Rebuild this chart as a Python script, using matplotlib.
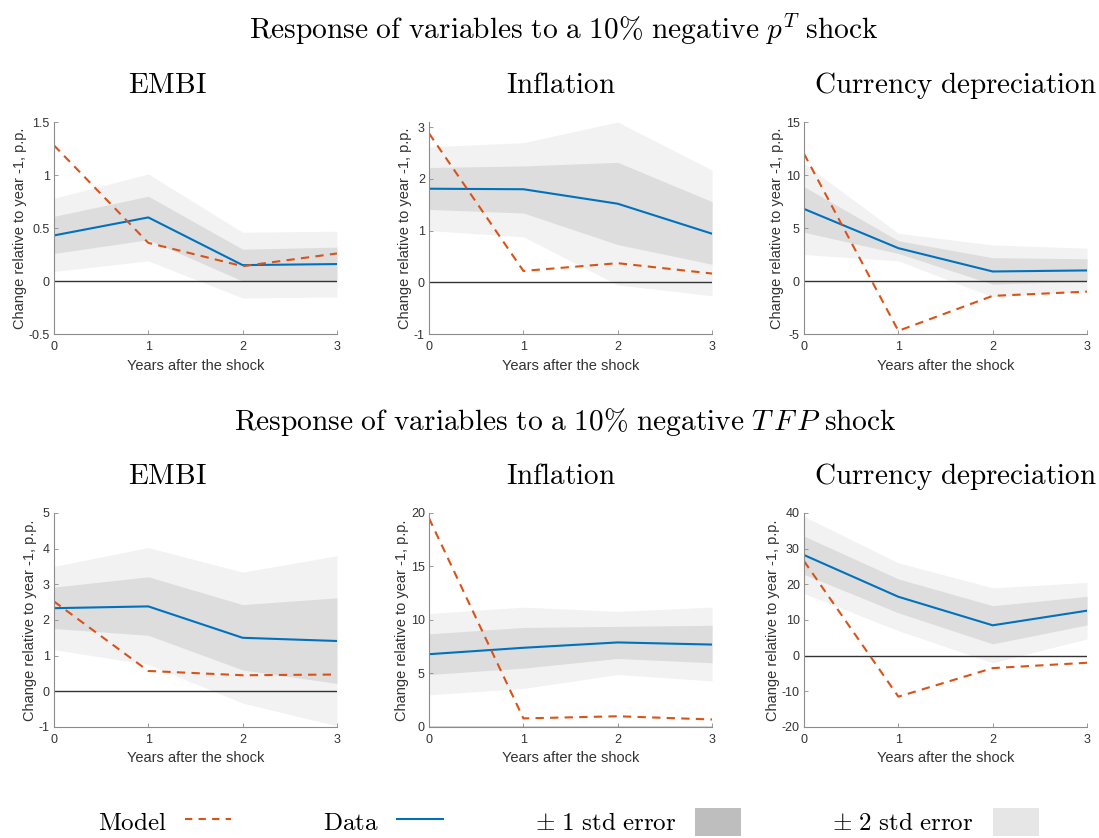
import matplotlib
matplotlib.use("Agg")
import matplotlib.pyplot as plt
from matplotlib.lines import Line2D
from matplotlib.patches import Patch

plt.rcParams['mathtext.fontset'] = 'cm'
plt.rcParams['font.family'] = ['Liberation Sans', 'DejaVu Sans']

years = [0, 1, 2, 3]
titles = ["EMBI", "Inflation", "Currency depreciation"]
title_x = [0.40, 0.466, 0.534]

# shock to p^T
pt_model = [[1.28, 0.36, 0.14, 0.26], [2.88, 0.22, 0.37, 0.17], [12.0, -4.7, -1.4, -1.0]]
pt_data = [[0.43, 0.60, 0.15, 0.16], [1.81, 1.80, 1.52, 0.94], [6.8, 3.1, 0.9, 1.0]]
pt_lo1 = [[0.26, 0.39, 0.0, 0.0], [1.41, 1.34, 0.73, 0.35], [4.6, 2.6, -0.3, 0.0]]
pt_hi1 = [[0.61, 0.80, 0.30, 0.32], [2.22, 2.25, 2.32, 1.56], [8.9, 3.8, 2.2, 2.1]]
pt_lo2 = [[0.09, 0.19, -0.16, -0.15], [1.00, 0.88, -0.05, -0.26], [2.5, 1.9, -1.5, -1.0]]
pt_hi2 = [[0.78, 1.01, 0.46, 0.47], [2.62, 2.70, 3.10, 2.17], [11.1, 4.5, 3.4, 3.1]]
pt_ylim = [(-0.5, 1.5), (-1, 3.1), (-5, 15)]
pt_yticks = [[-0.5, 0, 0.5, 1, 1.5], [-1, 0, 1, 2, 3], [-5, 0, 5, 10, 15]]
pt_yticklabels = [["-0.5", "0", "0.5", "1", "1.5"], ["-1", "0", "1", "2", "3"], ["-5", "0", "5", "10", "15"]]

# shock to TFP
tfp_model = [[2.52, 0.57, 0.45, 0.47], [19.5, 0.8, 1.0, 0.7], [26.5, -11.5, -3.5, -2.0]]
tfp_data = [[2.33, 2.38, 1.50, 1.41], [6.8, 7.4, 7.9, 7.7], [28.2, 16.5, 8.5, 12.6]]
tfp_lo1 = [[1.76, 1.57, 0.60, 0.22], [4.9, 5.5, 6.4, 6.0], [22.8, 12.0, 3.3, 8.6]]
tfp_hi1 = [[2.92, 3.21, 2.43, 2.62], [8.7, 9.3, 9.4, 9.5], [33.5, 21.5, 14.0, 16.6]]
tfp_lo2 = [[1.17, 0.75, -0.33, -0.97], [3.0, 3.6, 4.9, 4.3], [17.4, 7.0, -2.0, 4.7]]
tfp_hi2 = [[3.50, 4.03, 3.34, 3.80], [10.6, 11.2, 10.8, 11.2], [39.0, 26.0, 19.0, 20.5]]
tfp_ylim = [(-1, 5), (0, 20), (-20, 40)]
tfp_yticks = [[-1, 0, 1, 2, 3, 4, 5], [0, 5, 10, 15, 20], [-20, -10, 0, 10, 20, 30, 40]]
tfp_yticklabels = [["-1", "0", "1", "2", "3", "4", "5"], ["0", "5", "10", "15", "20"],
                   ["-20", "-10", "0", "10", "20", "30", "40"]]

c_model = '#D95319'
c_data = '#0072BD'
c_band1 = '#dddddd'
c_band2 = '#f2f2f2'

fig = plt.figure(figsize=(10.99, 8.38), dpi=100)

lefts = [0.0491, 0.3904, 0.7316]
rows = [
    (0.6014, 0.2530, pt_model, pt_data, pt_lo1, pt_hi1, pt_lo2, pt_hi2, pt_ylim, pt_yticks, pt_yticklabels),
    (0.1325, 0.2554, tfp_model, tfp_data, tfp_lo1, tfp_hi1, tfp_lo2, tfp_hi2, tfp_ylim, tfp_yticks, tfp_yticklabels),
]

for bottom, height, model, data, lo1, hi1, lo2, hi2, ylim, yticks, ytl in rows:
    for i in range(3):
        ax = fig.add_axes([lefts[i], bottom, 0.2575, height])
        ax.fill_between(years, lo2[i], hi2[i], color=c_band2, lw=0)
        ax.fill_between(years, lo1[i], hi1[i], color=c_band1, lw=0)
        ax.axhline(0, color='#333333', lw=1)
        ax.plot(years, data[i], color=c_data, lw=1.5)
        ax.plot(years, model[i], color=c_model, lw=1.5, ls=(0, (4, 3)))
        ax.set_xlim(0, 3)
        ax.set_ylim(ylim[i])
        ax.set_xticks(years)
        ax.set_yticks(yticks[i])
        ax.set_yticklabels(ytl[i])
        for s in ['top', 'right']:
            ax.spines[s].set_visible(False)
        for s in ['left', 'bottom']:
            ax.spines[s].set_color('#8c8c8c')
            ax.spines[s].set_linewidth(0.8)
        ax.tick_params(direction='in', length=3, width=0.6, labelsize=9,
                       color='#8c8c8c', labelcolor='#333333')
        ax.tick_params(axis='x', pad=5)
        ax.tick_params(axis='y', pad=3)
        ax.set_xlabel("Years after the shock", fontsize=10.5, color='#333333', labelpad=4)
        ax.set_ylabel("Change relative to year -1, p.p.", fontsize=10.5, color='#333333', labelpad=1)
        ax.set_title(r'$\mathrm{' + titles[i].replace(' ', r'\ ') + '}$', fontsize=21,
                     x=title_x[i], pad=21)

fig.text(0.513, 0.965, r'$\mathrm{Response\ of\ variables\ to\ a\ 10\%\ negative\ }p^T\mathrm{\ shock}$',
         ha='center', va='center', fontsize=21.2)
fig.text(0.514, 0.497, r'$\mathrm{Response\ of\ variables\ to\ a\ 10\%\ negative\ }T\,F\,P\mathrm{\ shock}$',
         ha='center', va='center', fontsize=21.2)

handles = [
    Line2D([], [], color=c_model, lw=1.5, ls=(0, (3.5, 3))),
    Line2D([], [], color=c_data, lw=1.5),
    Patch(facecolor='#bebebe', edgecolor='none'),
    Patch(facecolor='#e6e6e6', edgecolor='none'),
]
labels = [r'$\mathrm{Model}$', r'$\mathrm{Data}$', r'$\pm\ \mathrm{1\ std\ error}$', r'$\pm\ \mathrm{2\ std\ error}$']
fig.legend(handles, labels, loc='lower center', bbox_to_anchor=(0.517, -0.024), ncol=4,
           frameon=False, markerfirst=False, fontsize=18, handlelength=1.85, handleheight=1.3,
           columnspacing=3.65, handletextpad=0.75)

fig.savefig("out.png", dpi=100)
